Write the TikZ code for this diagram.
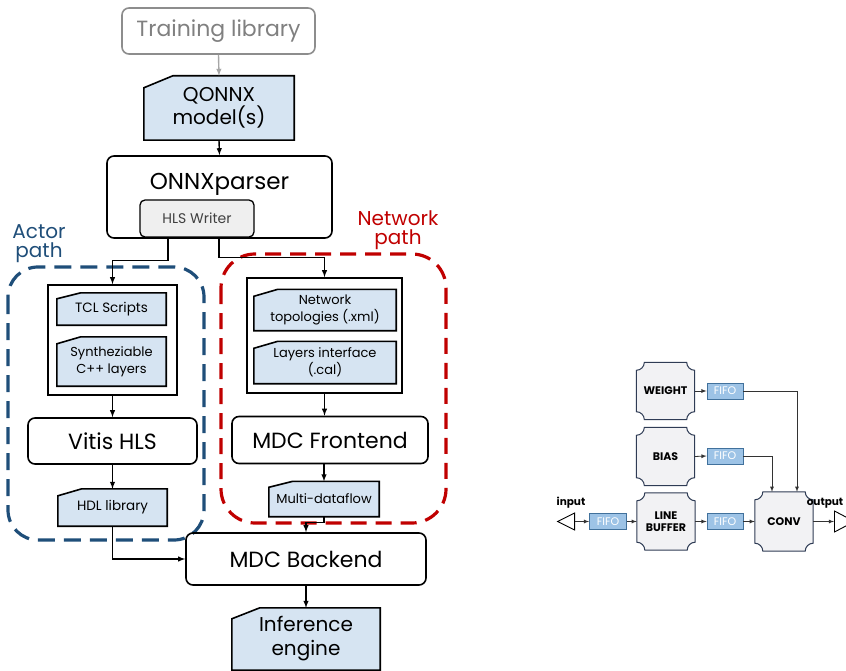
\documentclass[tikz,border=0pt]{standalone}
\usepackage{fontspec}
\setmainfont{Poppins}
\usetikzlibrary{positioning,shapes.geometric,backgrounds,calc}
\definecolor{cardblue}{RGB}{214,228,242}
\definecolor{writergray}{RGB}{239,239,239}
\definecolor{actorblue}{RGB}{31,78,121}
\definecolor{netred}{RGB}{192,0,0}
\definecolor{libgray}{RGB}{128,128,128}
\definecolor{fifoblue}{RGB}{157,195,230}
\definecolor{fifoedge}{RGB}{65,113,156}
\definecolor{actoredge}{RGB}{47,60,85}
\definecolor{actorfill}{RGB}{242,242,244}
\newcommand{\sz}[2]{\fontsize{#1}{#2}\selectfont}

\begin{document}
\begin{tikzpicture}[x=1pt,y=1pt,>=latex,
  tool/.style={draw,rounded corners=7pt,line width=1.6pt,inner sep=0pt,align=center},
  card/.style={inner sep=0pt,align=center},
  holder/.style={draw,line width=1.6pt,inner sep=0pt},
  flow/.style={->,line width=1.4pt},
  actor/.style={inner sep=0pt,align=center,minimum width=58pt,minimum height=57pt,
                font=\sz{11}{12}\bfseries},
  fifo/.style={draw=fifoedge,fill=fifoblue,line width=0.8pt,inner sep=0pt,
               minimum width=36pt,minimum height=16pt,text=white,font=\sz{11}{12}},
  link/.style={->,line width=0.8pt,black!80}]

  \useasboundingbox (0,0) rectangle (846,-671);

  \node (train) [tool,draw=libgray!90,text=libgray,minimum width=193pt,
                 minimum height=46pt,font=\sz{22}{24}] at (218.5,-31) {Training library};

  \node (qonnx) [card,minimum width=150pt,minimum height=64pt,
                 font=\sz{20}{23}] at (219,-108) {QONNX\\model(s)};

  \node (onnx) [tool,minimum width=225pt,text height=34pt,text depth=48pt,
                font=\sz{23}{25}] at (219.5,-197) {ONNXparser};

  \node (hls) [tool,fill=writergray,rounded corners=5pt,line width=1.3pt,
               minimum width=114pt,minimum height=37pt,text=black!75,
               font=\sz{14}{16}] at (197,-218.5) {HLS Writer};

  % actor path
  \draw [actorblue,line width=3.2pt,dash pattern=on 17pt off 9pt,rounded corners=30pt]
  (8,-267) rectangle (204,-540);

  \node (actorlbl) [text=actorblue,align=center,inner sep=0pt,font=\sz{20}{19}]
        at (39,-244) {Actor\\path};

  \node (actbox) [holder,minimum width=129pt,minimum height=110pt] at (112.5,-340) {};
  \node (tcl) [card,minimum width=109pt,minimum height=32pt,font=\sz{13.5}{16}]
        at (111.5,-309) {TCL Scripts};
  \node (cpp) [card,minimum width=109pt,minimum height=49pt,font=\sz{13}{17}]
        at (111.5,-361.5) {Syntheziable\\C++ layers};
  \node (vitis) [tool,minimum width=169pt,minimum height=46pt,font=\sz{22}{24}]
        at (112.5,-441) {Vitis HLS};
  \node (hdl) [card,minimum width=109pt,minimum height=37pt,font=\sz{13.5}{16}]
        at (112.5,-507.5) {HDL library};

  % network path
  \draw [netred,line width=3.2pt,dash pattern=on 16pt off 9pt,rounded corners=34pt]
  (221,-254) rectangle (446,-523);

  \node (netlbl) [text=netred,align=center,inner sep=0pt,font=\sz{20}{19}]
        at (398,-230) {Network\\path};

  \node (netbox) [holder,minimum width=155pt,minimum height=115pt] at (324.5,-335.5) {};
  \node (topo) [card,minimum width=142pt,minimum height=41pt,font=\sz{13}{17}]
        at (325,-310) {Network\\topologies (.xml)};
  \node (cal) [card,minimum width=142pt,minimum height=42pt,font=\sz{13}{17}]
        at (325,-362.5) {Layers interface\\(.cal)};
  \node (mdcf) [tool,minimum width=196pt,minimum height=47pt,font=\sz{22}{24}]
        at (330,-440) {MDC Frontend};
  \node (multi) [card,minimum width=110pt,minimum height=35pt,font=\sz{13}{16}]
        at (324,-499) {Multi-dataflow};

  \node (mdcb) [tool,minimum width=240pt,minimum height=52pt,font=\sz{22}{24}]
        at (306,-559) {MDC Backend};
  \node (infer) [card,minimum width=148pt,minimum height=62pt,font=\sz{20}{24}]
        at (306,-639) {Inference\\engine};

  \draw [->,libgray!70,line width=1.4pt] (train.south) -- (qonnx.north);
  \draw [flow] (qonnx.south) -- (onnx.north);
  \draw [flow] ([xshift=-29pt]hls.south) |- ([yshift=24pt]actbox.north) -- (actbox.north);
  \draw [flow] ([xshift=22pt]hls.south) |- ([yshift=20pt]netbox.north) -- (netbox.north);
  \draw [flow] (actbox.south) -- (vitis.north);
  \draw [flow] (vitis.south) -- (hdl.north);
  \draw [flow] (hdl.south) |- (mdcb.west);
  \draw [flow] (netbox.south) -- (netbox.south |- mdcf.north);
  \draw [flow] (multi.north |- mdcf.south) -- (multi.north);
  \draw [flow] (multi.south) |- ([yshift=10pt]mdcb.north) -- (mdcb.north);
  \draw [flow] (mdcb.south) -- (infer.north);

  % dataflow example
  \node (weight) [actor] at (665.5,-391) {WEIGHT};
  \node (bias) [actor,minimum height=58pt] at (665.5,-456.5) {BIAS};
  \node (lbuf) [actor] at (666,-521.5) {LINE\\BUFFER};
  \node (conv) [actor,minimum height=59pt] at (784,-521.5) {CONV};

  \node (wfifo) [fifo] at (725,-391) {FIFO};
  \node (bfifo) [fifo] at (725,-456) {FIFO};
  \node (lfifo) [fifo] at (725,-521.5) {FIFO};
  \node (infifo) [fifo,minimum width=37pt] at (608,-521.5) {FIFO};

  \node (inport) [isosceles triangle,draw,shape border rotate=180,
                  isosceles triangle stretches,minimum width=17pt,minimum height=17pt,
                  inner sep=0pt,line width=0.9pt,anchor=east] at (575,-521.5) {};
  \node (outport) [isosceles triangle,draw,isosceles triangle stretches,
                   minimum width=21pt,minimum height=20pt,inner sep=0pt,
                   line width=0.9pt,anchor=west] at (834,-521.5) {};
  \node (inlbl) [font=\sz{10.5}{12}\bfseries] at (571,-503) {input};
  \node (outlbl) [font=\sz{10.5}{12}\bfseries] at (825,-503) {output};

  \draw [link] (weight.east) -- (wfifo.west);
  \draw [link] (bias.east) -- (bfifo.west);
  \draw [link] (inport.east) -- (infifo.west);
  \draw [link] (infifo.east) -- (lbuf.west);
  \draw [link] (lbuf.east) -- (lfifo.west);
  \draw [link] (lfifo.east) -- (conv.west);
  \draw [link] (wfifo.east) -| ([xshift=13pt]conv.north);
  \draw [link] (bfifo.east) -| ([xshift=-12pt]conv.north);
  \draw [link] (conv.east) -- (outport.west);

  \begin{scope}[on background layer]
    \foreach \n/\dx/\dy in {qonnx/29/12,tcl/24/6,cpp/24/7,hdl/24/7,
                            topo/24/7,cal/24/7,multi/24/6,infer/28/11}
      \filldraw [fill=cardblue,line width=1.6pt] (\n.south west) -- (\n.south east)
      -- (\n.north east) -- ([xshift=\dx pt]\n.north west)
      -- ([yshift=-\dy pt]\n.north west) -- cycle;
    \foreach \n in {weight,bias,lbuf,conv}
      \filldraw [fill=actorfill,draw=actoredge,line width=1pt]
      ([xshift=8pt]\n.north west) -- ([xshift=-8pt]\n.north east)
      .. controls +(0,-4.4) and +(-4.4,0) .. ([yshift=-8pt]\n.north east)
      -- ([yshift=8pt]\n.south east)
      .. controls +(-4.4,0) and +(0,4.4) .. ([xshift=-8pt]\n.south east)
      -- ([xshift=8pt]\n.south west)
      .. controls +(0,4.4) and +(4.4,0) .. ([yshift=8pt]\n.south west)
      -- ([yshift=-8pt]\n.north west)
      .. controls +(4.4,0) and +(0,-4.4) .. ([xshift=8pt]\n.north west) -- cycle;
  \end{scope}

\end{tikzpicture}
\end{document}
